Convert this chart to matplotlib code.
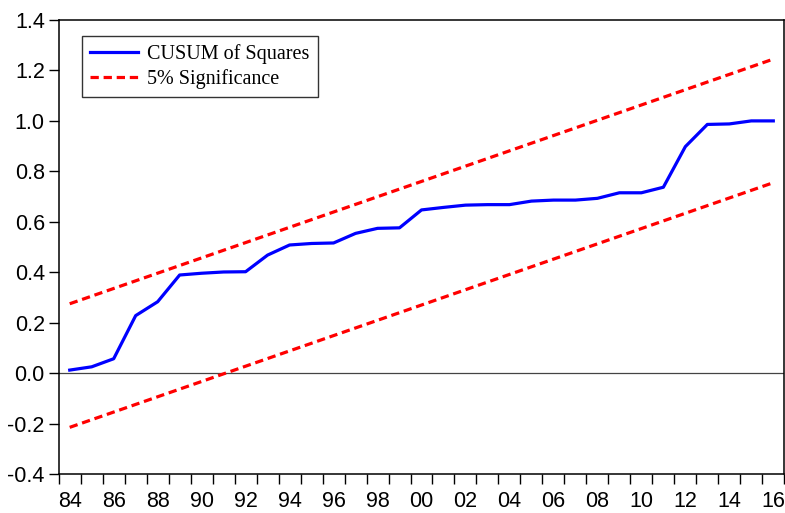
import numpy as np
import matplotlib
matplotlib.use("Agg")
import matplotlib.pyplot as plt
from matplotlib.ticker import FixedLocator, FormatStrFormatter

plt.rcParams['axes.unicode_minus'] = False

# data
years = list(range(1984, 2017))
cusum_sq = [0.012, 0.025, 0.057, 0.228, 0.283, 0.389, 0.396, 0.401, 0.402, 0.468,
            0.508, 0.514, 0.516, 0.554, 0.574, 0.576, 0.647, 0.657, 0.666, 0.668,
            0.668, 0.682, 0.686, 0.686, 0.693, 0.715, 0.715, 0.737, 0.898, 0.986,
            0.988, 1.000, 1.000]
bound_years = [1984, 2016]
upper_bound = [0.275, 1.245]
lower_bound = [-0.215, 0.755]
ytick_vals = [-0.4, -0.2, 0.0, 0.2, 0.4, 0.6, 0.8, 1.0, 1.2, 1.4]
xlabel_years = list(range(1984, 2017, 2))

fig = plt.figure(figsize=(7.85, 5.13), dpi=100)
ax = fig.add_axes([0.0748, 0.076, 0.9243, 0.885])

x = np.array(years) - years[0]
xb = np.array(bound_years) - years[0]

ax.axhline(0.0, color='#444444', lw=0.9, zorder=1)
ax.plot(x, cusum_sq, color='#0000ff', lw=2.3, label='CUSUM of Squares', zorder=3)
ax.plot(xb, upper_bound, color='#ff0000', lw=2.3, ls=(0, (2.6, 1.5)),
        label='5% Significance', zorder=2)
ax.plot(xb, lower_bound, color='#ff0000', lw=2.3, ls=(0, (2.6, 1.5)), zorder=2)

ax.set_xlim(-0.5, len(years) - 0.5)
ax.set_ylim(-0.4, 1.4)

# year boundaries get the tick marks, labels sit in the middle of each band
ax.xaxis.set_major_locator(FixedLocator(np.arange(-0.5, len(years), 1.0)))
ax.xaxis.set_major_formatter(plt.NullFormatter())
ax.xaxis.set_minor_locator(FixedLocator([y - years[0] for y in xlabel_years]))
ax.set_xticklabels(["%02d" % (y % 100) for y in xlabel_years], minor=True)
ax.tick_params(axis='x', which='major', direction='out', length=7, width=1, top=False)
ax.tick_params(axis='x', which='minor', length=0, pad=12, labelsize=15.5)

ax.set_yticks(ytick_vals)
ax.yaxis.set_major_formatter(FormatStrFormatter('%.1f'))
ax.tick_params(axis='y', direction='out', length=7, width=1, labelsize=15.5, right=False, pad=3)

for s in ax.spines.values():
    s.set_linewidth(1.1)
    s.set_color('black')

for lab in ax.get_xticklabels(minor=True) + ax.get_yticklabels():
    lab.set_fontfamily('Liberation Sans')

leg = ax.legend(loc='upper left', bbox_to_anchor=(0.032, 0.965), frameon=True,
                fancybox=False, edgecolor='black', handlelength=2.4,
                borderpad=0.4, labelspacing=0.25, handletextpad=0.45,
                borderaxespad=0,
                prop={'family': 'Liberation Serif', 'size': 14.5})
leg.get_frame().set_linewidth(1.0)

fig.savefig('out.png', dpi=100)
